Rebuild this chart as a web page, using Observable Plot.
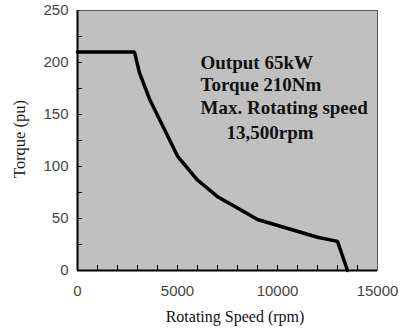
<!DOCTYPE html>
<html><head><meta charset="utf-8">
<script src="https://cdn.jsdelivr.net/npm/d3@7"></script>
<script src="https://cdn.jsdelivr.net/npm/@observablehq/plot@0.6"></script>
<style>
html,body{margin:0;padding:0;background:#fff;}
</style>
</head><body><div id="chart"></div>
<script>
const speed  = [0, 2850, 3100, 3600, 5000, 6000, 7000, 8000, 9000, 12000, 13000, 13500];
const torque = [210, 210, 190, 165, 110, 87, 71, 60, 49, 32, 28, 0];
const xTicks = [0, 5000, 10000, 15000];
const yTicks = [0, 50, 100, 150, 200, 250];
const xMinor = d3.range(1000, 15000, 1000);
const yMinor = d3.range(25, 250, 25);
const noteText = ["Output 65kW", "Torque 210Nm", "Max. Rotating speed", "13,500rpm"];
const noteX = [6150, 6150, 6150, 7450];
const noteY = [200, 178, 156, 132];
const xTitle = "Rotating Speed (rpm)";
const yTitle = "Torque (pu)";

const curve = speed.map((s, i) => ({s, t: torque[i]}));
const notes = noteText.map((text, i) => ({text, x: noteX[i], y: noteY[i]}));

const W = 405, H = 331, mL = 77, mR = 28, mT = 10, mB = 61;
const pw = W - mL - mR, ph = H - mT - mB;

const chart = Plot.plot({
  width: W, height: H,
  marginLeft: mL, marginRight: mR, marginTop: mT, marginBottom: mB,
  style: {background: "#fff", overflow: "visible"},
  x: {domain: [0, 15000]},
  y: {domain: [0, 250]},
  marks: [
    Plot.frame({fill: "#c0c0c0", stroke: "#555", strokeWidth: 1}),
    Plot.tickX(xMinor, {x: d => d, insetTop: ph - 5, stroke: "#000", strokeWidth: 1}),
    Plot.tickY(yMinor, {y: d => d, insetRight: pw - 5, stroke: "#000", strokeWidth: 1}),
    Plot.ruleX([0], {stroke: "#000", strokeWidth: 2}),
    Plot.ruleY([0], {stroke: "#000", strokeWidth: 2}),
    Plot.axisX({ticks: xTicks, tickSize: 0, tickPadding: 15, tickFormat: d => String(d),
      fontSize: 15, fontFamily: "Liberation Sans", fill: "#444", label: null}),
    Plot.axisY({ticks: yTicks, tickSize: 0, tickPadding: 9, tickFormat: d => String(d),
      fontSize: 15, fontFamily: "Liberation Sans", fill: "#444", label: null}),
    Plot.line(curve, {x: "s", y: "t", stroke: "#000", strokeWidth: 3.5, strokeLinejoin: "miter"}),
    Plot.text(notes, {x: "x", y: "y", text: "text", textAnchor: "start",
      fontFamily: "Liberation Serif", fontWeight: "bold", fontSize: 19, fill: "#111",
      letterSpacing: 0.5})
  ]
});
document.getElementById("chart").appendChild(chart);

const svg = d3.select(chart);
svg.append("text")
  .attr("transform", "translate(235,318)")
  .attr("text-anchor", "middle").attr("dominant-baseline", "middle")
  .attr("font-family", "Liberation Serif").attr("font-size", 16).attr("fill", "#111")
  .text(xTitle);
svg.append("text")
  .attr("transform", "translate(21,139) rotate(-90)")
  .attr("text-anchor", "middle").attr("dominant-baseline", "middle")
  .attr("font-family", "Liberation Serif").attr("font-size", 16.5).attr("fill", "#111")
  .text(yTitle);
</script>
</body></html>
